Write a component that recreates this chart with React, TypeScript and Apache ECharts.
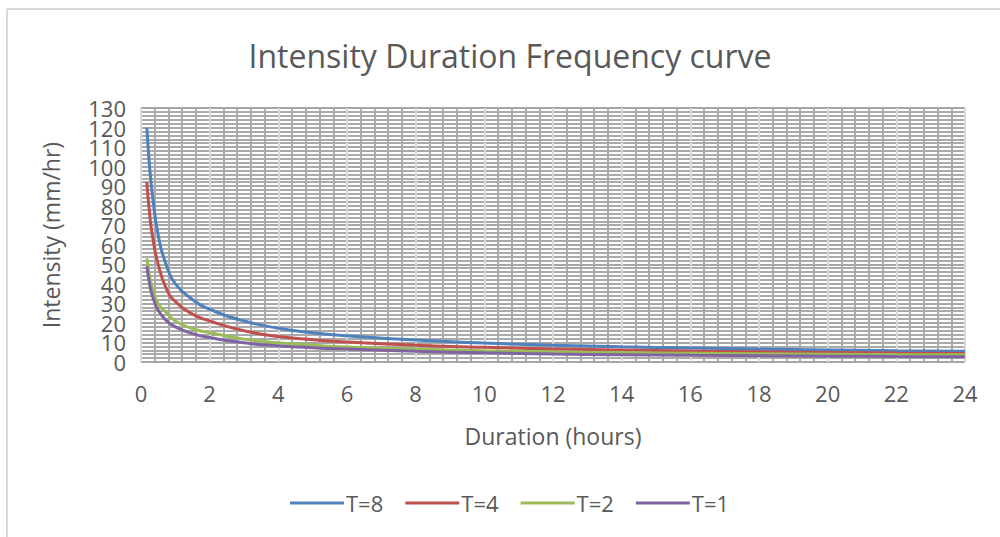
import React, { useEffect, useRef } from "react";
import * as echarts from "echarts";

const durations = [0.17, 0.25, 0.33, 0.5, 0.75, 1, 1.5, 2, 3, 4, 5, 6, 8, 10, 12, 14, 16, 18, 20, 22, 24];
const t8 = [120, 100, 86, 65, 49, 40, 32, 27, 21, 17.3, 15, 13.4, 11.2, 9.7, 8.6, 7.8, 7.2, 6.7, 6.2, 5.8, 5.5];
const t4 = [92, 76, 65, 50, 37, 31, 24.5, 21, 16, 13, 11.4, 10.2, 8.6, 7.5, 6.7, 6.1, 5.6, 5.2, 4.9, 4.6, 4.4];
const t2 = [53, 44, 38, 30, 25, 21, 17, 15, 11.7, 9.8, 8.6, 7.7, 6.6, 5.8, 5.2, 4.8, 4.5, 4.2, 4, 3.8, 3.7];
const t1 = [49, 40, 34, 26.5, 21, 18, 14.5, 12.5, 9.8, 8.3, 7.3, 6.6, 5.5, 4.7, 4.1, 3.7, 3.4, 3.2, 3, 2.8, 2.7];

const seriesNames = ["T=8", "T=4", "T=2", "T=1"];
const seriesColors = ["#4F81BD", "#C0504D", "#9BBB59", "#8064A2"];
const seriesValues = [t8, t4, t2, t1];

const FONT = "Open Sans";
const TXT = "#595959";

const yLabelStyle = { fontFamily: FONT, fontSize: 22, color: TXT, margin: 15, showMinLabel: true, showMaxLabel: true };

export default function App() {
  const ref = useRef<HTMLDivElement>(null);
  useEffect(() => {
    const chart = echarts.init(ref.current!, undefined, { renderer: "svg" });
    chart.setOption({
      animation: false,
      backgroundColor: "#ffffff",
      title: {
        text: "Intensity Duration Frequency curve",
        left: 505,
        textAlign: "center",
        top: 34,
        textStyle: { fontFamily: FONT, fontSize: 32, fontWeight: "normal", color: TXT },
      },
      graphic: [
        { type: "line", shape: { x1: 7, y1: 9, x2: 1000, y2: 9 }, style: { stroke: "#d9d9d9", lineWidth: 2 } },
        { type: "line", shape: { x1: 7, y1: 9, x2: 7, y2: 537 }, style: { stroke: "#d9d9d9", lineWidth: 2 } },
      ],
      legend: {
        top: 492,
        left: 290,
        padding: 0,
        itemWidth: 54,
        itemHeight: 3,
        itemGap: 22,
        icon: "rect",
        textStyle: { fontFamily: FONT, fontSize: 22, color: TXT, padding: [0, 0, 0, -3] },
        data: seriesNames,
      },
      grid: { left: 141, right: 35, top: 108, bottom: 175, containLabel: false },
      xAxis: {
        type: "value",
        min: 0,
        max: 24,
        interval: 2,
        name: "Duration (hours)",
        nameLocation: "middle",
        nameGap: 62,
        nameTextStyle: { fontFamily: FONT, fontSize: 23, color: TXT },
        axisLine: { show: false },
        axisTick: { show: false },
        axisLabel: { fontFamily: FONT, fontSize: 22, color: TXT, margin: 20, showMinLabel: true, showMaxLabel: true },
        splitLine: { show: true, lineStyle: { color: "#d9d9d9", width: 2 } },
        minorTick: { show: false, splitNumber: 5 },
        minorSplitLine: { show: true, lineStyle: { color: "#aaaaaa", width: 2 } },
      },
      yAxis: [
        {
          type: "value",
          min: 0,
          max: 130,
          interval: 10,
          position: "left",
          name: "Intensity (mm/hr)",
          nameLocation: "middle",
          nameGap: 79,
          nameTextStyle: { fontFamily: FONT, fontSize: 23, color: TXT },
          axisLine: { show: false },
          axisTick: { show: false },
          axisLabel: { ...yLabelStyle, formatter: (v: number) => (v % 20 === 0 ? String(v) : "") },
          splitLine: { show: true, lineStyle: { color: "#a6a6a6", width: 2 } },
          minorTick: { show: false, splitNumber: 5 },
          minorSplitLine: { show: true, lineStyle: { color: "#aaaaaa", width: 2 } },
        },
        {
          type: "value",
          min: 0,
          max: 130,
          interval: 10,
          position: "left",
          offset: 0,
          axisLine: { show: false },
          axisTick: { show: false },
          axisLabel: { ...yLabelStyle, formatter: (v: number) => (v % 20 === 10 ? String(v) : "") },
          splitLine: { show: false },
          minorSplitLine: { show: false },
        },
      ],
      series: seriesNames.map((n, i) => ({
        name: n,
        type: "line",
        smooth: 0.5,
        showSymbol: false,
        symbol: "none",
        lineStyle: { width: 3, color: seriesColors[i] },
        itemStyle: { color: seriesColors[i] },
        data: durations.map((d, j) => [d, seriesValues[i][j]]),
      })),
    });
    return () => chart.dispose();
  }, []);
  return <div ref={ref} style={{ width: 1000, height: 537, position: "absolute", left: 0, top: 0 }} />;
}
